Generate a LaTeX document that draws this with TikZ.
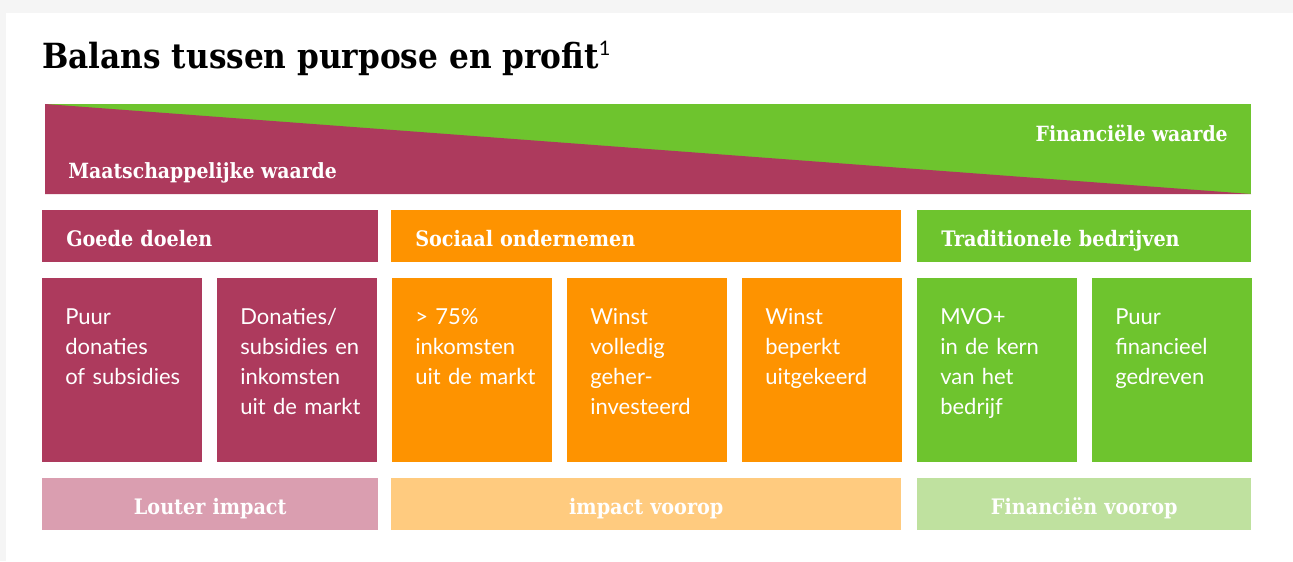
\documentclass[tikz,border=0pt]{standalone}
\usepackage{fontspec}
\setmainfont{Lato}
\newfontfamily\slab{DejaVu Serif Condensed}
\usetikzlibrary{positioning}
\definecolor{plum}{HTML}{AD3A5D}
\definecolor{lime}{HTML}{6EC42E}
\definecolor{tangerine}{HTML}{FE9300}
\definecolor{plumlight}{HTML}{DA9EB0}
\definecolor{tangerinelight}{HTML}{FFCB7F}
\definecolor{limelight}{HTML}{BFE19F}
\tikzset{
	balans/.style={x=0.75pt,y=-0.75pt},
	band/.style={fill=#1,anchor=north west,inner xsep=18pt,inner ysep=0pt,
		minimum height=39pt,text height=15pt,text depth=0pt,text=white,
		font=\slab\bfseries\fontsize{16}{20}\selectfont},
	cell/.style={fill=#1,anchor=north west,inner sep=0pt,
		minimum width=120pt,minimum height=138pt},
	celltext/.style={anchor=base west,inner sep=0pt,text width=100pt,align=left,
		text=white,font=\fontsize{16.5}{22.5}\selectfont},
	banner/.style={anchor=base #1,inner sep=0pt,text=white,
		font=\slab\bfseries\fontsize{15.7}{18}\selectfont}
}

\begin{document}
\begin{tikzpicture}[balans]
	
	\useasboundingbox (0,0) rectangle (1293,561);
	\fill[black!4] (0,0) rectangle (1293,561);
	\fill[white] (6,13) rectangle (1293,561);
	
	\node[anchor=base west,inner sep=0pt,font=\slab\bfseries\fontsize{26}{30}\selectfont]
		(title) at (42,68) {Balans tussen purpose en profit\textsuperscript{\normalfont\fontsize{15}{15}\selectfont 1}};
	
	% verhouding maatschappelijk / financieel
	\fill[lime] (45,104) rectangle (1251,194);
	\fill[plum] (45,104) -- (1251,194) -- (45,194) -- cycle;
	\node[banner=west] (mw) at (68,178) {Maatschappelijke waarde};
	\node[banner=east] (fw) at (1228,141) {Financiële waarde};
	
	% kopjes
	\node[band=plum, text width=216pt, align=left] (gd) at (42,210) {Goede doelen};
	\node[band=tangerine, text width=346.5pt, align=left] (so) at (391,210) {Sociaal ondernemen};
	\node[band=lime, text width=214.5pt, align=left] (tb) at (917,210) {Traditionele bedrijven};
	
	% vormen
	\node[cell=plum] (c1) at (42,278) {};
	\node[cell=plum] (c2) at (217,278) {};
	\node[cell=tangerine] (c3) at (392,278) {};
	\node[cell=tangerine] (c4) at (567,278) {};
	\node[cell=tangerine] (c5) at (742,278) {};
	\node[cell=lime] (c6) at (917,278) {};
	\node[cell=lime] (c7) at (1092,278) {};
	
	\node[celltext] (t1) at ([shift={(23,46)}]c1.north west) {Puur\\donaties\\of subsidies};
	\node[celltext] (t2) at ([shift={(23,46)}]c2.north west) {Donaties/\\subsidies en\\inkomsten\\uit de markt};
	\node[celltext] (t3) at ([shift={(23,46)}]c3.north west) {> 75\%\\inkomsten\\uit de markt};
	\node[celltext] (t4) at ([shift={(23,46)}]c4.north west) {Winst\\volledig\\geher-\\investeerd};
	\node[celltext] (t5) at ([shift={(23,46)}]c5.north west) {Winst\\beperkt\\uitgekeerd};
	\node[celltext] (t6) at ([shift={(23,46)}]c6.north west) {MVO+\\in de kern\\van het\\bedrijf};
	\node[celltext] (t7) at ([shift={(23,46)}]c7.north west) {Puur\\financieel\\gedreven};
	
	% accent
	\node[band=plumlight, text width=216pt, align=center] (li) at (42,478) {Louter impact};
	\node[band=tangerinelight, text width=346.5pt, align=center] (iv) at (391,478) {impact voorop};
	\node[band=limelight, text width=214.5pt, align=center] (fv) at (917,478) {Financiën voorop};
	
\end{tikzpicture}
\end{document}
